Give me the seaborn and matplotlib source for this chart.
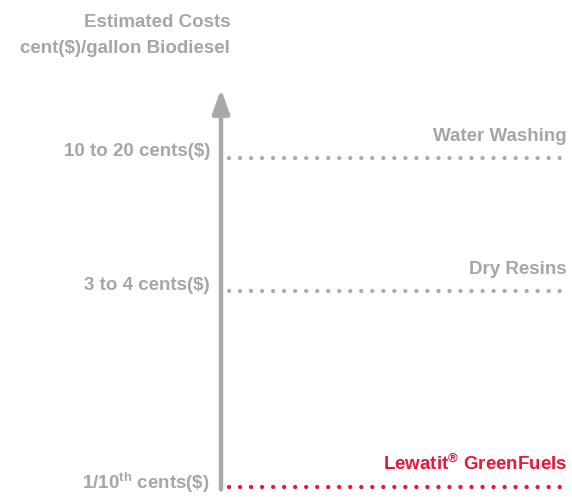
import pandas as pd
import matplotlib
matplotlib.use("Agg")
import matplotlib.pyplot as plt
import seaborn as sns

# chart values
methods = ["Lewatit$^{®}$ GreenFuels", "Dry Resins", "Water Washing"]
cost_labels = ["1/10$^{\\mathrm{th}}$ cents(\\$)", "3 to 4 cents(\\$)", "10 to 20 cents(\\$)"]
cost_level = [0.0, 4.0, 6.72]          # relative position on the cost axis
line_colors = ["#E8173A", "#ABABAB", "#ABABAB"]
title_lines = ["Estimated Costs", "cent(\\$)/gallon Biodiesel"]

GRAY = "#A6A6A6"
ARROW = "#A9A9A5"

sns.set_style("white")
plt.rcParams["font.family"] = ["Liberation Sans", "DejaVu Sans"]
plt.rcParams["font.weight"] = "bold"
plt.rcParams["mathtext.fontset"] = "custom"
plt.rcParams["mathtext.rm"] = "Liberation Sans:bold"
plt.rcParams["mathtext.it"] = "Liberation Sans:bold"
plt.rcParams["mathtext.bf"] = "Liberation Sans:bold"

fig = plt.figure(figsize=(5.72, 4.97), dpi=100)
# axes: left edge on the arrow, bottom on the lowest line
ax = fig.add_axes([221 / 572, 10 / 497, 351 / 572, 8.5 * 49 / 497])
ax.set_xlim(0, 1)
ax.set_ylim(0, 8.5)
ax.axis("off")

# dotted level lines
for lvl, col in zip(cost_level, line_colors):
    df = pd.DataFrame({"x": [0.023, 0.985], "y": [lvl, lvl]})
    sns.lineplot(data=df, x="x", y="y", ax=ax, color=col, linewidth=3.1)
for line in ax.lines:
    line.set_dashes((0.01, 2.55))
    line.set_dash_capstyle("round")
    line.set_clip_on(False)

# vertical arrow
ax.annotate("", xy=(0, 8.12), xytext=(0, -0.05),
            arrowprops=dict(arrowstyle="-|>,head_length=1.0,head_width=0.36",
                            mutation_scale=14.4, color=ARROW, lw=3.2,
                            shrinkA=0, shrinkB=0),
            annotation_clip=False)

fs = 13.5
# left cost labels
for lvl, lab in zip(cost_level, cost_labels):
    ax.annotate(lab, xy=(0, lvl), xytext=(-8, 1.0 if lvl > 0 else -1.5),
                textcoords="offset points", ha="right", va="baseline",
                color=GRAY, fontsize=fs, fontweight="bold", annotation_clip=False)

# right method labels
for lvl, lab, col in zip(cost_level, methods, line_colors):
    ax.annotate(lab, xy=(0.986, lvl), xytext=(0, 12),
                textcoords="offset points", ha="right", va="baseline",
                color=col if lvl == 0 else GRAY, fontsize=fs, fontweight="bold",
                annotation_clip=False)

# axis title
for i, t in enumerate(title_lines):
    ax.text(0.026, 9.39 - i * 0.53, t, ha="right", va="baseline",
            color=GRAY, fontsize=fs, fontweight="bold", clip_on=False)

fig.savefig("out.png", dpi=100)
